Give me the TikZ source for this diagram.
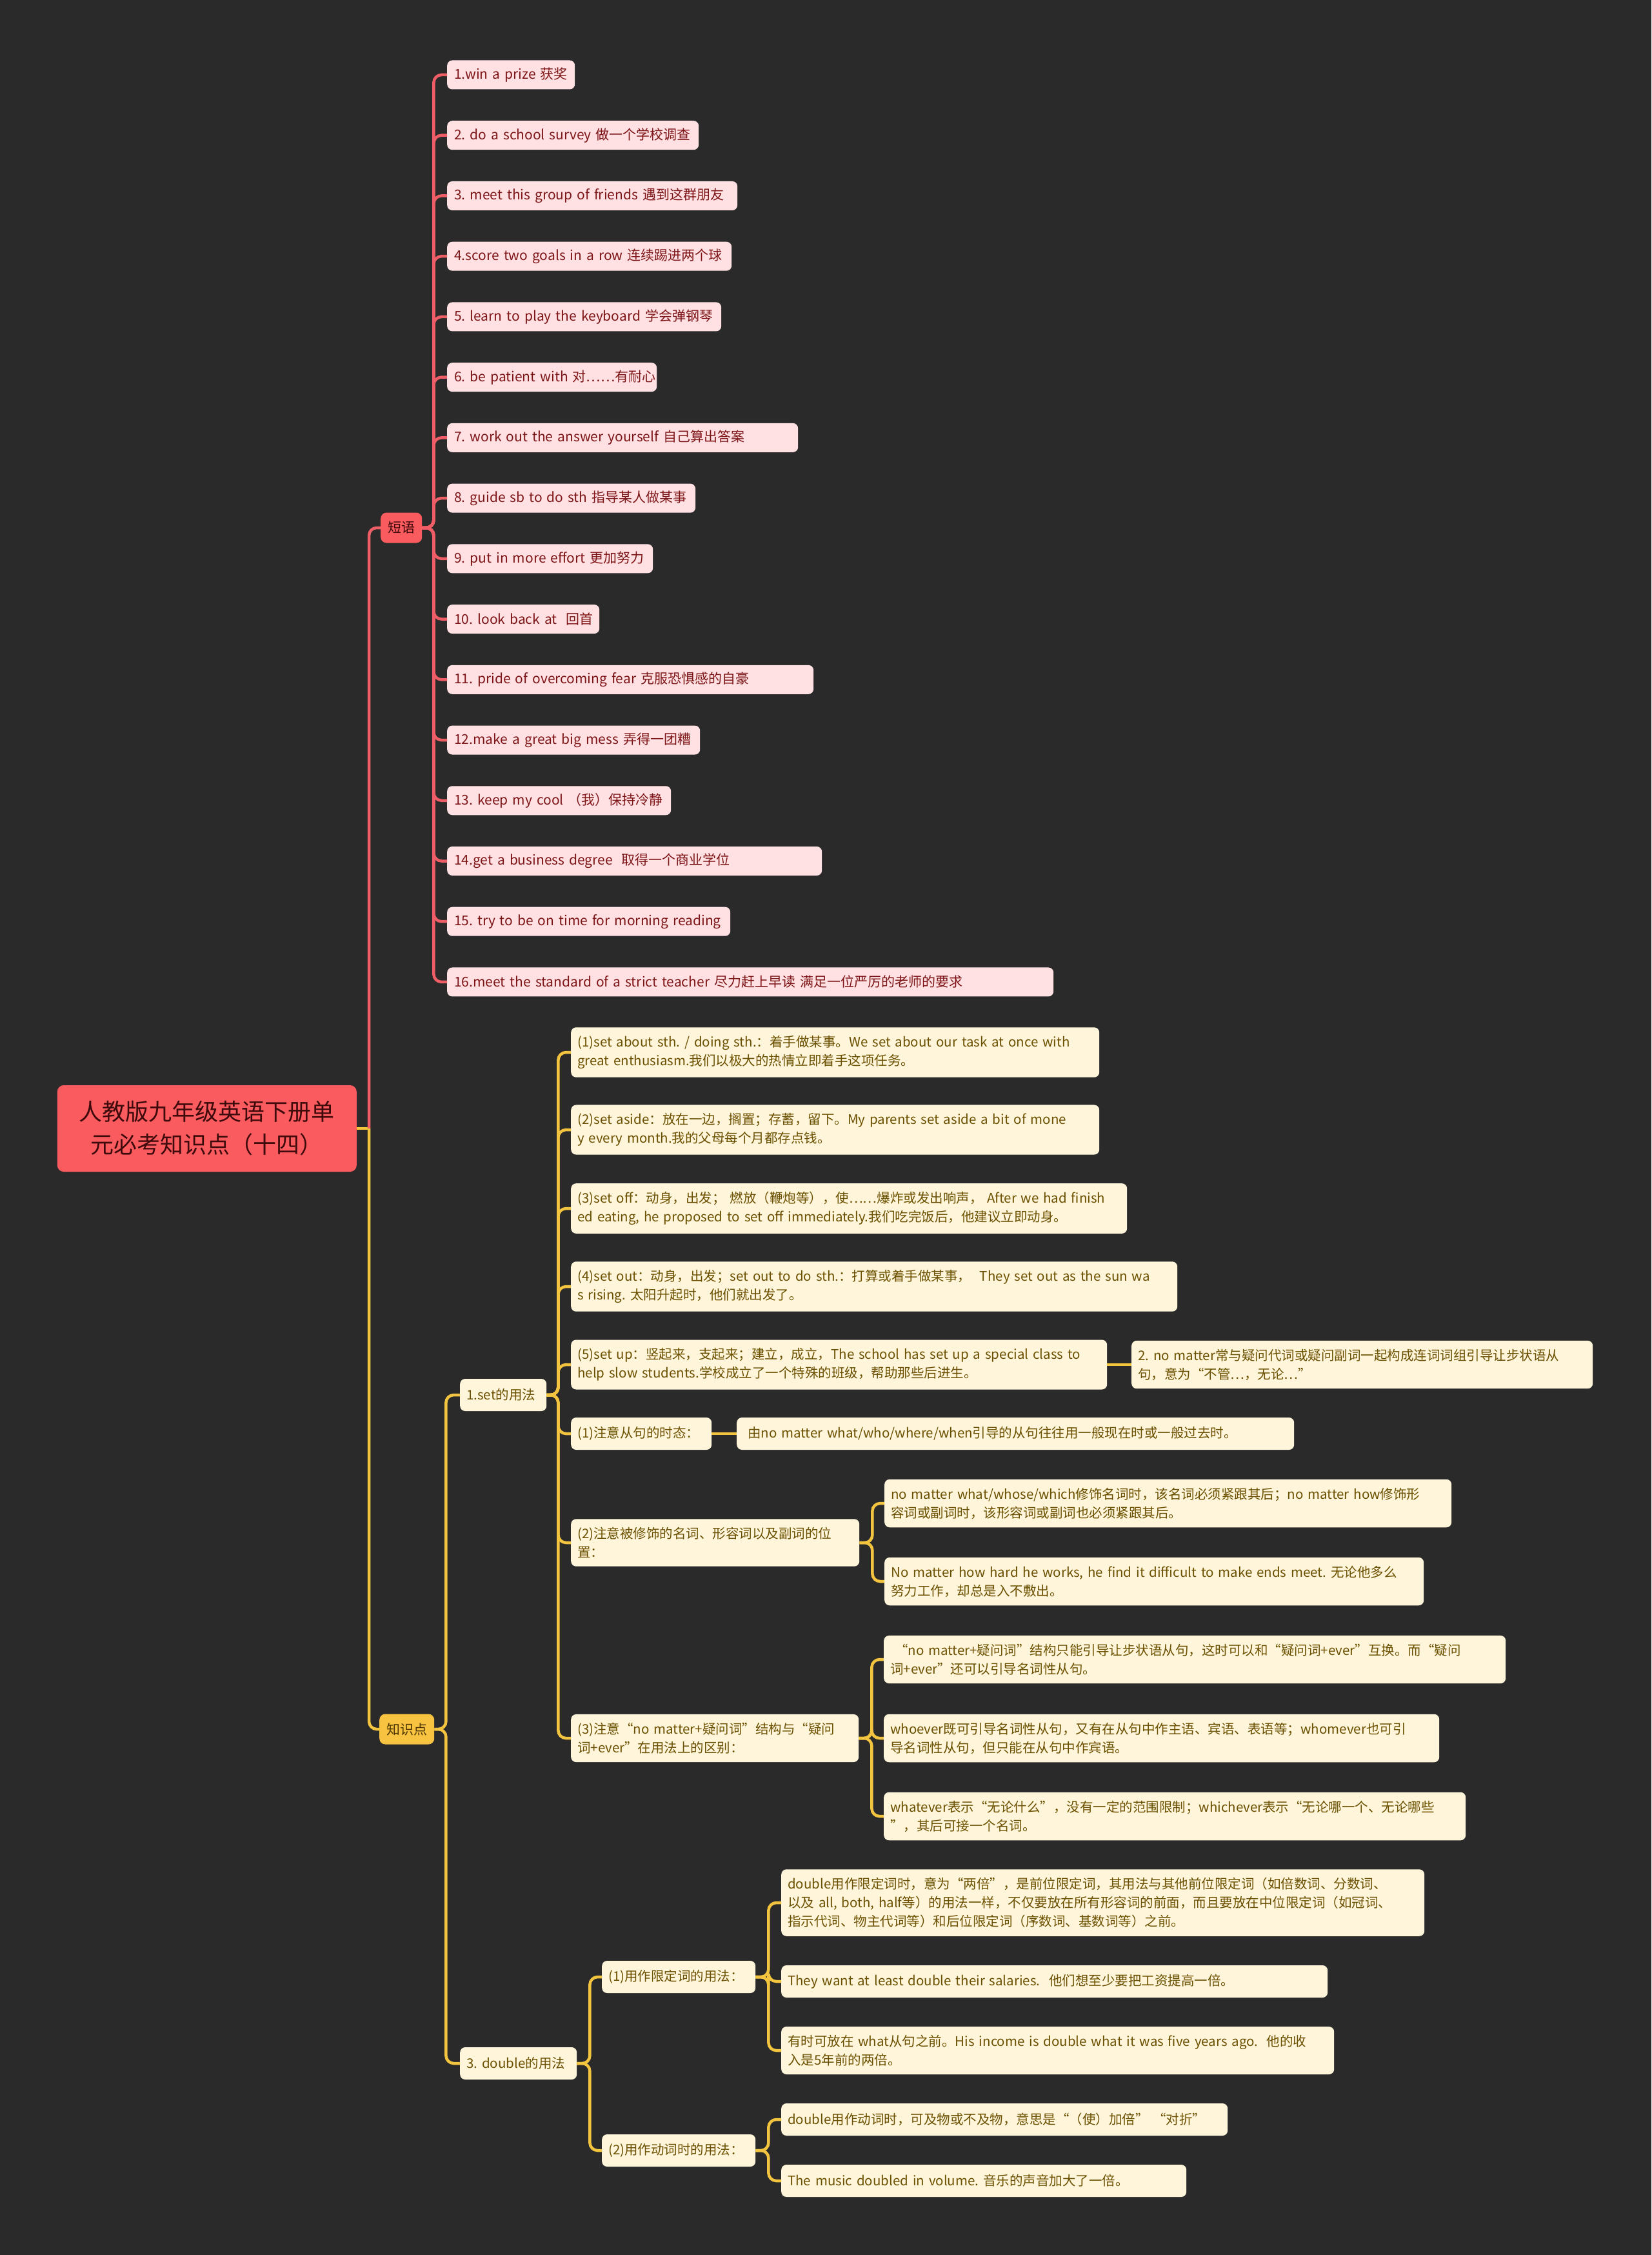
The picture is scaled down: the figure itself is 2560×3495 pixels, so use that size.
\documentclass[tikz,border=0pt]{standalone}
\usepackage{fontspec}
\setmainfont{Noto Sans CJK SC}
\usetikzlibrary{positioning}

\definecolor{bgdark}{HTML}{2A2A2A}
\definecolor{rootred}{HTML}{F95B5E}
\definecolor{rootink}{HTML}{3E0A0C}
\definecolor{redbranch}{HTML}{EF5E66}
\definecolor{pinkfill}{HTML}{FFE1E4}
\definecolor{pinkink}{HTML}{7D1517}
\definecolor{goldbranch}{HTML}{F3C43F}
\definecolor{goldfill}{HTML}{F7C341}
\definecolor{goldink}{HTML}{4E3600}
\definecolor{creamfill}{HTML}{FFF5DA}
\definecolor{creamink}{HTML}{6A5000}

\begin{document}
\frenchspacing
\begin{tikzpicture}[
    x=1pt, y=-1pt,
    redline/.style={draw=redbranch, line width=4.5pt, rounded corners=12pt},
    goldline/.style={draw=goldbranch, line width=4.5pt, rounded corners=12pt},
    rootbox/.style={fill=rootred, text=rootink, rounded corners=10pt, align=center,
      minimum width=464pt, minimum height=134pt, font=\fontsize{36}{51}\selectfont},
    branchbox/.style={anchor=west, rounded corners=9pt, inner xsep=11pt,
      minimum height=47pt, font=\fontsize{21}{29}\selectfont},
    phrasebox/.style={anchor=west, fill=pinkfill, text=pinkink, rounded corners=8pt,
      inner xsep=11pt, inner ysep=10pt, minimum height=45pt, align=left,
      font=\fontsize{21}{29}\selectfont},
    notebox/.style={anchor=west, fill=creamfill, text=creamink, rounded corners=8pt,
      inner xsep=10pt, inner ysep=13pt, minimum height=50pt, align=left,
      font=\fontsize{20.5}{29}\selectfont}
  ]
    \fill[bgdark] (0,0) rectangle (2560,3495);
    \useasboundingbox (0,0) rectangle (2560,3495);

    \node[rootbox, anchor=east] (root) at (553,1749) {人教版九年级英语下册单\\元必考知识点（十四）};
    \node[branchbox, fill=rootred, text=rootink] (phr) at (590,818) {短语};
    \node[branchbox, fill=goldfill, text=goldink] (kp) at (588,2680) {知识点};

    \foreach \i/\w/\t in {
        1/176/{1.win a prize 获奖},
        2/368/{2. do a school survey 做一个学校调查},
        3/428/{3. meet this group of friends 遇到这群朋友},
        4/419/{4.score two goals in a row 连续踢进两个球},
        5/403/{5. learn to play the keyboard 学会弹钢琴},
        6/303/{6. be patient with 对……有耐心},
        7/522/{7. work out the answer yourself 自己算出答案},
        8/363/{8. guide sb to do sth 指导某人做某事},
        9/297/{9. put in more effort 更加努力},
        10/214/{10. look back at \ 回首},
        11/546/{11. pride of overcoming fear 克服恐惧感的自豪},
        12/370/{12.make a great big mess 弄得一团糟},
        13/325/{13. keep my cool （我）保持冷静},
        14/559/{14.get a business degree \ 取得一个商业学位},
        15/417/{15. try to be on time for morning reading},
        16/918/{16.meet the standard of a strict teacher 尽力赶上早读 满足一位严厉的老师的要求}}
      \node[phrasebox, text width=\w pt] (p\i) at (693,{116+93.73*(\i-1)}) {\mbox{\t}};

    \node[notebox, text width=114pt] (set1) at (713,2162) {1.set的用法};
    \node[notebox, text width=161pt] (dbl) at (713,3198) {3. double的用法};

    \node[notebox, text width=799pt] (sa) at (885,1631) {(1)set about sth. / doing sth.：着手做某事。We set about our task at once with\\great enthusiasm.我们以极大的热情立即着手这项任务。};
    \node[notebox, text width=799pt] (sb) at (885,1751) {(2)set aside：放在一边，搁置；存蓄，留下。My parents set aside a bit of mone\\y every month.我的父母每个月都存点钱。};
    \node[notebox, text width=842pt] (sc) at (885,1873) {(3)set off：动身，出发； 燃放（鞭炮等），使……爆炸或发出响声， After we had finish\\ed eating, he proposed to set off immediately.我们吃完饭后，他建议立即动身。};
    \node[notebox, text width=920pt] (sd) at (885,1994) {(4)set out：动身，出发；set out to do sth.：打算或着手做某事， \ They set out as the sun wa\\s rising. 太阳升起时，他们就出发了。};
    \node[notebox, text width=811pt] (se) at (885,2115) {(5)set up：竖起来，支起来；建立，成立，The school has set up a special class to\\help slow students.学校成立了一个特殊的班级，帮助那些后进生。};
    \node[notebox, text width=198pt] (na) at (885,2222) {(1)注意从句的时态：};
    \node[notebox, text width=427pt] (nb) at (885,2391) {(2)注意被修饰的名词、形容词以及副词的位\\置：};
    \node[notebox, text width=426pt] (nc) at (885,2694) {(3)注意“no matter+疑问词”结构与“疑问\\词+ever”在用法上的区别：};

    \node[notebox, text width=695pt] (nm) at (1754,2115) {2. no matter常与疑问代词或疑问副词一起构成连词词组引导让步状语从\\句，意为“不管…，无论…”};
    \node[notebox, text width=844pt] (nat) at (1142,2222) {\ 由no matter what/who/where/when引导的从句往往用一般现在时或一般过去时。};
    \node[notebox, text width=859pt] (nb1) at (1371,2330) {no matter what/whose/which修饰名词时，该名词必须紧跟其后；no matter how修饰形\\容词或副词时，该形容词或副词也必须紧跟其后。};
    \node[notebox, text width=816pt] (nb2) at (1371,2451) {No matter how hard he works, he find it difficult to make ends meet. 无论他多么\\努力工作，却总是入不敷出。};
    \node[notebox, text width=944pt] (nc1) at (1370,2572) {\ “no matter+疑问词”结构只能引导让步状语从句，这时可以和“疑问词+ever”互换。而“疑问\\词+ever”还可以引导名词性从句。};
    \node[notebox, text width=841pt] (nc2) at (1370,2694) {whoever既可引导名词性从句，又有在从句中作主语、宾语、表语等；whomever也可引\\导名词性从句，但只能在从句中作宾语。};
    \node[notebox, text width=882pt] (nc3) at (1370,2815) {whatever表示“无论什么”，没有一定的范围限制；whichever表示“无论哪一个、无论哪些\\”，其后可接一个名词。};

    \node[notebox, text width=218pt] (da) at (933,3064) {(1)用作限定词的用法：};
    \node[notebox, text width=218pt] (db) at (933,3333) {(2)用作动词时的用法：};
    \node[notebox, text width=977pt] (da1) at (1211,2949) {double用作限定词时，意为“两倍”，是前位限定词，其用法与其他前位限定词（如倍数词、分数词、\\以及 all, both, half等）的用法一样，不仅要放在所有形容词的前面，而且要放在中位限定词（如冠词、\\指示代词、物主代词等）和后位限定词（序数词、基数词等）之前。};
    \node[notebox, text width=827pt] (da2) at (1211,3071) {They want at least double their salaries. \ 他们想至少要把工资提高一倍。};
    \node[notebox, text width=837pt] (da3) at (1211,3178) {有时可放在 what从句之前。His income is double what it was five years ago. \ 他的收\\入是5年前的两倍。};
    \node[notebox, text width=672pt] (db1) at (1211,3285) {double用作动词时，可及物或不及物，意思是“（使）加倍” “对折”};
    \node[notebox, text width=608pt] (db2) at (1211,3380) {The music doubled in volume. 音乐的声音加大了一倍。};

    \draw[goldline] (root.east) -- ++(19,0) coordinate (rootfork);
    \draw[redline] (rootfork) |- (phr.west);
    \draw[goldline] (rootfork) |- (kp.west);
    \foreach \i in {1,...,16}
      \draw[redline] (phr.east) -- ++(18,0) |- (p\i.west);
    \foreach \c in {set1,dbl}
      \draw[goldline] (kp.east) -- ++(18,0) |- (\c.west);
    \foreach \c in {sa,sb,sc,sd,se,na,nb,nc}
      \draw[goldline] (set1.east) -- ++(18,0) |- (\c.west);
    \draw[goldline] (se.east) -- (nm.west);
    \draw[goldline] (na.east) -- (nat.west);
    \foreach \c in {nb1,nb2}
      \draw[goldline] (nb.east) -- ++(20,0) |- (\c.west);
    \foreach \c in {nc1,nc2,nc3}
      \draw[goldline] (nc.east) -- ++(20,0) |- (\c.west);
    \foreach \c in {da,db}
      \draw[goldline] (dbl.east) -- ++(20,0) |- (\c.west);
    \foreach \c in {da1,da2,da3}
      \draw[goldline] (da.east) -- ++(20,0) |- (\c.west);
    \foreach \c in {db1,db2}
      \draw[goldline] (db.east) -- ++(20,0) |- (\c.west);
  \end{tikzpicture}
\end{document}
